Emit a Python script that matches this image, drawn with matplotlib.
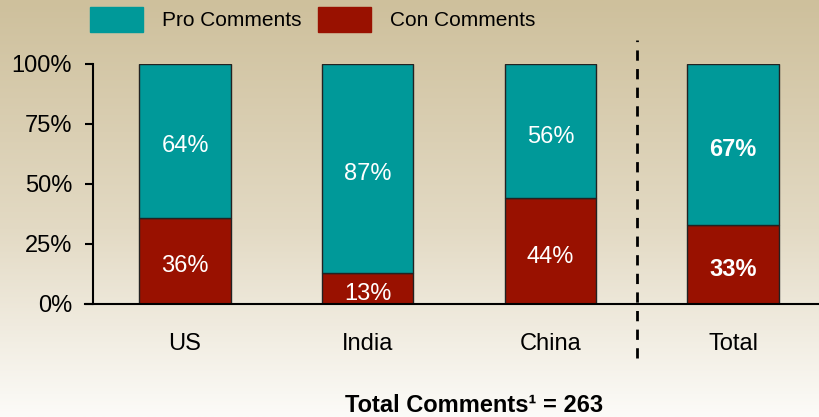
import numpy as np
import matplotlib
matplotlib.use("Agg")
import matplotlib.pyplot as plt
from matplotlib.patches import Patch
from matplotlib.colors import LinearSegmentedColormap
from matplotlib.transforms import offset_copy

plt.rcParams['font.family'] = ['Liberation Sans', 'DejaVu Sans']

# data
categories = ["US", "India", "China", "Total"]
con_pct = [36, 13, 44, 33]
pro_pct = [64, 87, 56, 67]
y_ticks = [0, 25, 50, 75, 100]
footer_total = 263

teal = "#009999"
red = "#991100"

fig = plt.figure(figsize=(8.19, 4.17), dpi=100)

# gradient background
bg = fig.add_axes([0, 0, 1, 1], zorder=-1)
cmap = LinearSegmentedColormap.from_list(
    "bg", [(0, "#CEC09C"), (0.55, "#E3DAC4"), (1.0, "#FCFBF8")])
grad = np.linspace(0, 1, 256).reshape(-1, 1)
bg.imshow(grad, aspect="auto", cmap=cmap, extent=[0, 1, 0, 1])
bg.axis("off")

W, H = 819, 417
ax = fig.add_axes([93 / W, (H - 304) / H, 1 - 93 / W, 240 / H])
ax.patch.set_alpha(0)

x = np.arange(len(categories))
bw = 0.5
ax.bar(x, con_pct, bw, color=red, edgecolor="#222222", linewidth=1, zorder=2)
ax.bar(x, pro_pct, bw, bottom=con_pct, color=teal, edgecolor="#222222",
       linewidth=1, zorder=2)

# labels sit a touch below segment centre, like the original
lbl_tr = offset_copy(ax.transData, fig=fig, y=-3, units="dots")
for i, (c, p) in enumerate(zip(con_pct, pro_pct)):
    wt = "bold" if categories[i] == "Total" else "normal"
    ax.text(x[i], c / 2, f"{c}%", ha="center", va="center_baseline",
            color="white", fontsize=17, fontweight=wt, zorder=3,
            transform=lbl_tr)
    ax.text(x[i], c + p / 2, f"{p}%", ha="center", va="center_baseline",
            color="white", fontsize=17, fontweight=wt, zorder=3,
            transform=lbl_tr)

ax.set_xlim(-0.5036, 3.47)
ax.set_ylim(0, 100)
ax.set_yticks(y_ticks)
ax.set_yticklabels([f"{t}%" for t in y_ticks], fontsize=17)
ax.set_xticks(x)
ax.set_xticklabels(categories, fontsize=17)
ax.tick_params(axis="x", length=0, pad=21)
ax.tick_params(axis="y", length=6, width=1.5, pad=9)
for s in ["top", "right"]:
    ax.spines[s].set_visible(False)
ax.spines["left"].set_linewidth(1.5)
ax.spines["bottom"].set_linewidth(1.5)
ax.spines["bottom"].set_bounds(-0.545, 3.47)

# divider between countries and total
ax.plot([2.475, 2.475], [-22.5, 110], color="black", lw=2,
        dashes=(3.7, 3), clip_on=False, zorder=1)

handles = [Patch(color=teal), Patch(color=red)]
fig.legend(handles, ["Pro Comments", "Con Comments"], ncol=2,
           loc="upper left", bbox_to_anchor=(90 / W, 1 - 7 / H),
           frameon=False, fontsize=15, handlelength=2.55, handleheight=1.45,
           handletextpad=0.9, columnspacing=0.8, borderpad=0, borderaxespad=0)

fig.text(474 / W, 1 - 405 / H, f"Total Comments\u00b9 = {footer_total}",
         ha="center", va="center", fontsize=17, fontweight="bold")

fig.savefig("out.png", dpi=100)
